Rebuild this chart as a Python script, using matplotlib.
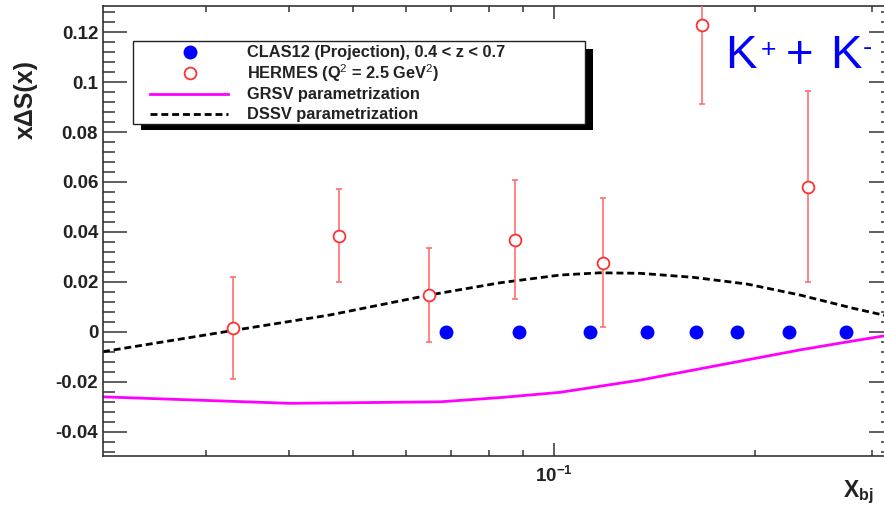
import matplotlib
matplotlib.use("Agg")
import matplotlib.pyplot as plt
from matplotlib.patches import Rectangle
from matplotlib.ticker import FixedLocator, NullFormatter, LogLocator

plt.rcParams['font.family'] = ['Liberation Sans', 'DejaVu Sans']
plt.rcParams['mathtext.fontset'] = 'custom'
plt.rcParams['mathtext.rm'] = 'Liberation Sans'
plt.rcParams['mathtext.bf'] = 'Liberation Sans:bold'
plt.rcParams['mathtext.it'] = 'Liberation Sans:italic'
plt.rcParams['lines.scale_dashes'] = False

# CLAS12 projected bins (x_bj), plotted at zero asymmetry
clas12_x = [0.0688, 0.0886, 0.1132, 0.138, 0.1634, 0.188, 0.2256, 0.2745]
clas12_y = [0, 0, 0, 0, 0, 0, 0, 0]

# HERMES kaon extraction at Q^2 = 2.5 GeV^2
hermes_x = [0.0330, 0.0476, 0.0650, 0.0874, 0.1186, 0.1667, 0.2408]
hermes_y = [0.0016, 0.0385, 0.0147, 0.0368, 0.0277, 0.1229, 0.0581]
hermes_err = [0.0204, 0.0187, 0.0188, 0.0238, 0.0260, 0.0318, 0.0383]

# Parametrizations of x*DeltaS(x)
grsv_x = [0.02104, 0.0401, 0.0674, 0.0830, 0.1021, 0.1346, 0.1617, 0.1949,
          0.2340, 0.2812, 0.3228]
grsv_y = [-0.0261, -0.0287, -0.0281, -0.0264, -0.0243, -0.0194, -0.0154,
          -0.0113, -0.0073, -0.0037, -0.0011]

dssv_x = [0.02104, 0.0330, 0.0461, 0.0650, 0.0830, 0.1021, 0.1172, 0.1346,
          0.1617, 0.1949, 0.2340, 0.2812, 0.3228]
dssv_y = [-0.0080, 0.0005, 0.0067, 0.0147, 0.0196, 0.0227, 0.0236, 0.0234,
          0.0218, 0.0191, 0.0147, 0.0094, 0.0058]

y_ticks = [-0.04, -0.02, 0, 0.02, 0.04, 0.06, 0.08, 0.1, 0.12]
y_tick_labels = ["-0.04", "-0.02", "0", "0.02", "0.04", "0.06", "0.08", "0.1", "0.12"]

legend_labels = ["CLAS12 (Projection), 0.4 < z < 0.7",
                 r"HERMES (Q$^{2}$ = 2.5 GeV$^{2}$)",
                 "GRSV parametrization",
                 "DSSV parametrization"]

W, H = 884, 509
fig = plt.figure(figsize=(W / 100, H / 100), dpi=100)
L, R, T, B = 103, 893, 6, 456
ax = fig.add_axes([L / W, (H - B) / H, (R - L) / W, (B - T) / H])

frame_col = "#333333"
ax.set_xscale("log")
ax.set_xlim(0.02104, 0.3228)
ax.set_ylim(-0.0498, 0.1305)

ax.plot(grsv_x, grsv_y, color="#ff00ff", lw=2.0, zorder=2)
ax.plot(dssv_x, dssv_y, color="black", lw=2.0, dashes=(5.0, 2.8), zorder=2)
ax.errorbar(hermes_x, hermes_y, yerr=hermes_err, fmt="none",
            ecolor="#ff7070", elinewidth=1.2, capsize=2.0, capthick=1.2, zorder=3)
ax.plot(hermes_x, hermes_y, "o", ms=8.5, mfc="white", mec="#ff3030", mew=1.3,
        zorder=4)
ax.plot(clas12_x, clas12_y, "o", ms=9, color="#0000ff", mec="#0000ff", zorder=5)

for s in ax.spines.values():
    s.set_color(frame_col)
    s.set_linewidth(1.2)

ax.yaxis.set_major_locator(FixedLocator(y_ticks))
ax.set_yticklabels(y_tick_labels)
ax.yaxis.set_minor_locator(FixedLocator([-0.048 + 0.004 * i for i in range(46)]))
ax.xaxis.set_major_locator(FixedLocator([0.1]))
ax.set_xticklabels([r"$\mathbf{10^{-1}}$"])
ax.xaxis.set_minor_locator(LogLocator(base=10, subs=range(2, 10), numticks=20))
ax.xaxis.set_minor_formatter(NullFormatter())

ax.tick_params(which="both", direction="in", top=True, right=True,
               color=frame_col, width=1.1)
ax.tick_params(axis="y", which="major", length=17.3, pad=3.5)
ax.tick_params(axis="y", which="minor", length=8.6)
ax.tick_params(axis="x", which="major", length=9.4, pad=7)
ax.tick_params(axis="x", which="minor", length=4.3)
for lab in ax.get_yticklabels() + ax.get_xticklabels():
    lab.set_fontsize(13.5)
    lab.set_fontweight("bold")
    lab.set_color("#222222")

# Axis titles in ROOT style (placed at the axis ends)
fig.text(26 / W, 1 - 60 / H, "x\u0394S(x)", rotation=90, ha="center", va="top",
         fontsize=18, fontweight="bold", color="#222222")
fig.text(874 / W, 1 - 497 / H, r"X$_{\mathbf{bj}}$", ha="right", va="baseline",
         fontsize=16.5, fontweight="bold", color="#222222")

# Overlay in pixel coordinates for the legend box and the channel label
ov = fig.add_axes([0, 0, 1, 1], zorder=10)
ov.set_xlim(0, W)
ov.set_ylim(H, 0)
ov.axis("off")

ov.add_patch(Rectangle((141, 49), 452, 81, facecolor="black", edgecolor="none"))
ov.add_patch(Rectangle((133, 41), 452, 83, facecolor="white", edgecolor="#222222",
                       lw=1.0))
rows = [52, 73, 94, 114]
ov.plot([190], [rows[0]], "o", ms=9, color="#0000ff")
ov.plot([190], [rows[1]], "o", ms=8.5, mfc="white", mec="#ff3030", mew=1.3)
ov.plot([150, 228], [rows[2], rows[2]], color="#ff00ff", lw=2.0)
ov.plot([150, 228], [rows[3], rows[3]], color="black", lw=2.0, dashes=(5.0, 2.8))
for yrow, txt in zip(rows, legend_labels):
    ov.text(247, yrow, txt, ha="left", va="center", fontsize=11.8,
            fontweight="bold", color="#222222")

# Channel label K+ + K-
blue = "#0000ff"
ov.text(725, 68, "K", fontsize=34, color=blue, ha="left", va="baseline")
ov.text(761, 57, "+", fontsize=19, color=blue, ha="left", va="baseline")
ov.text(786, 68, "+", fontsize=34, color=blue, ha="left", va="baseline")
ov.text(830, 68, "K", fontsize=34, color=blue, ha="left", va="baseline")
ov.text(863, 55, "-", fontsize=20, color=blue, ha="left", va="baseline")

fig.savefig("out.png", dpi=100)
